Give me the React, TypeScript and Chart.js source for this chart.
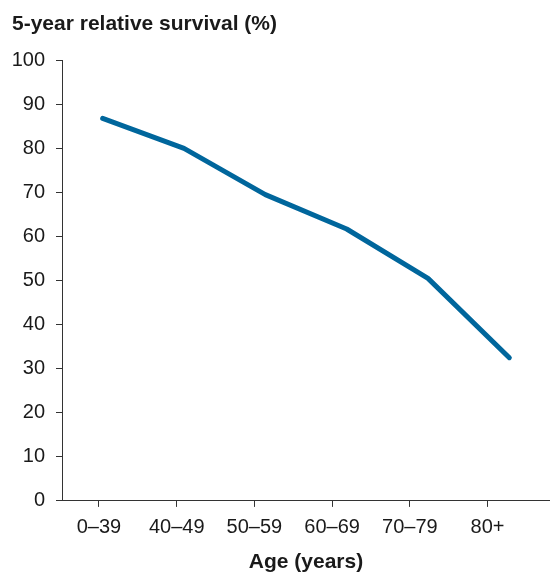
import React, { useEffect, useRef } from "react";
import { Chart, registerables } from "chart.js";

Chart.register(...registerables);

const categories = ["0–39", "40–49", "50–59", "60–69", "70–79", "80+"];
const survival = [86.8, 80, 69.5, 61.7, 50.5, 32.5];
const yTicks = [0, 10, 20, 30, 40, 50, 60, 70, 80, 90, 100];
const chartTitle = "5-year relative survival (%)";
const xTitle = "Age (years)";

export default function App() {
  const ref = useRef<HTMLCanvasElement | null>(null);
  useEffect(() => {
    if (!ref.current) return;
    const axisColor = "#333333";
    const textColor = "#1a1a1a";
    const fam = "Liberation Sans, Arial, sans-serif";
    const chart = new Chart(ref.current, {
      type: "line",
      data: {
        labels: categories,
        datasets: [
          {
            data: survival,
            borderColor: "#00669c",
            borderWidth: 5,
            borderCapStyle: "round",
            borderJoinStyle: "round",
            pointRadius: 0,
            tension: 0,
            fill: false,
            xAxisID: "x",
            yAxisID: "y",
          },
        ],
      },
      options: {
        animation: false,
        responsive: false,
        maintainAspectRatio: false,
        layout: { padding: { left: 12, right: 0, top: 0, bottom: 0 } },
        plugins: {
          legend: { display: false },
          tooltip: { enabled: false },
          title: {
            display: true,
            text: chartTitle,
            align: "start",
            color: textColor,
            font: { family: fam, size: 21, weight: "bold", lineHeight: 1.2 },
            padding: { top: 12, bottom: 23 },
          },
        },
        scales: {
          x: {
            type: "category",
            display: false,
            offset: true,
          },
          x2: {
            type: "linear",
            position: "bottom",
            min: -0.476,
            max: 5.804,
            afterBuildTicks: (axis: any) => {
              axis.ticks = categories.map((_, i) => ({ value: i }));
            },
            ticks: {
              callback: (v: any) => categories[Math.round(Number(v))] ?? "",
              color: textColor,
              font: { family: fam, size: 20, lineHeight: 1.1 },
              padding: 10,
              maxRotation: 0,
              autoSkip: false,
            },
            grid: {
              display: true,
              drawOnChartArea: false,
              drawTicks: true,
              tickLength: 6,
              color: axisColor,
            },
            border: { display: true, color: axisColor, width: 1 },
            title: {
              display: true,
              text: xTitle,
              color: textColor,
              font: { family: fam, size: 21, weight: "bold", lineHeight: 1.1 },
              padding: { top: 2, bottom: 0 },
            },
          },
          y: {
            type: "linear",
            min: 0,
            max: 100,
            afterBuildTicks: (axis: any) => {
              axis.ticks = yTicks.map((v) => ({ value: v }));
            },
            afterFit: (axis: any) => {
              axis.width = 50;
            },
            ticks: {
              color: textColor,
              font: { family: fam, size: 20 },
              padding: 11,
            },
            grid: {
              display: true,
              drawOnChartArea: false,
              drawTicks: true,
              tickLength: 6,
              color: axisColor,
            },
            border: { display: true, color: axisColor, width: 1 },
          },
        },
      },
    });
    return () => chart.destroy();
  }, []);
  return (
    <div style={{ position: "absolute", left: 0, top: 0, width: 550, height: 574, background: "#fff" }}>
      <canvas ref={ref} width={550} height={574} style={{ display: "block", width: 550, height: 574 }} />
    </div>
  );
}
